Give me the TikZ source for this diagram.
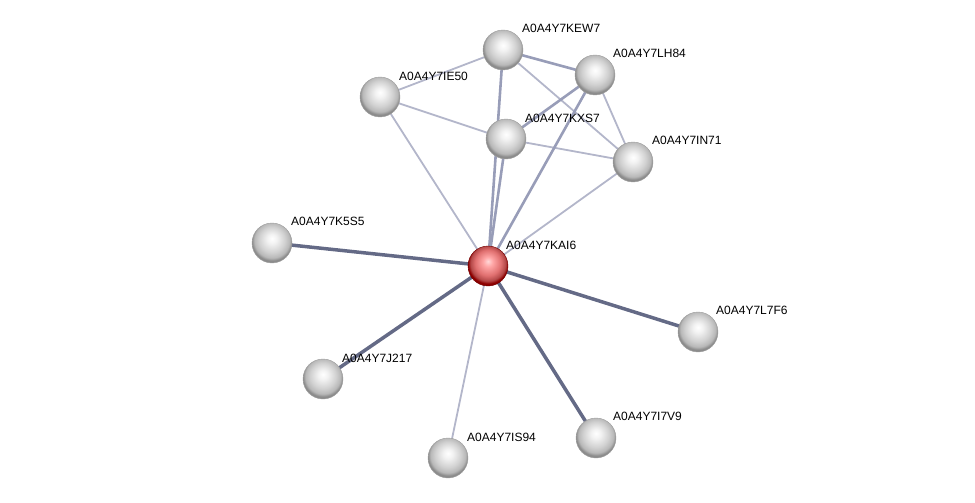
\documentclass[tikz,border=0pt]{standalone}
\usepackage{fontspec}
\setmainfont{Liberation Sans}
\pgfdeclarelayer{bg}
\pgfsetlayers{bg,main}
\pgfdeclareradialshading{wball}{\pgfpoint{0bp}{6bp}}{color(0bp)=(white); color(6bp)=(white!95!black); color(16bp)=(white!82!black); color(22bp)=(white!72!black); color(25bp)=(white!55!black); color(50bp)=(white!55!black)}
\pgfdeclareradialshading{rball}{\pgfpoint{0bp}{6bp}}{color(0bp)=(red!15!white); color(6bp)=(red!35!white); color(16bp)=(red!50!white!88!black); color(22bp)=(red!60!white!70!black); color(25bp)=(red!55!black); color(50bp)=(red!55!black)}
\definecolor{elight}{HTML}{B3B6CA}
\definecolor{emed}{HTML}{989DB8}
\definecolor{edark}{HTML}{646A86}
\tikzset{
  prot/.style={circle, minimum size=40pt, inner sep=0pt, shading=wball, draw=gray!75, line width=0.4pt},
  protc/.style={circle, minimum size=40pt, inner sep=0pt, shading=rball, draw=red!45!black, line width=0.4pt},
  lab/.style={anchor=west, inner sep=0pt, font=\fontsize{12}{14}\selectfont},
  el/.style={draw=elight, line width=1.8pt},
  em/.style={draw=emed, line width=2.6pt},
  ed/.style={draw=edark, line width=3.5pt}
}
\begin{document}
\begin{tikzpicture}[x=1pt,y=-1pt]
\useasboundingbox (0,0) rectangle (975,503);
\node[prot] (KEW7) at (503,50) {};
\node[prot] (LH84) at (595,75) {};
\node[prot] (IE50) at (380,97) {};
\node[prot] (KXS7) at (506,139) {};
\node[prot] (IN71) at (633,162) {};
\node[prot] (K5S5) at (272,243) {};
\node[protc] (KAI6) at (488,266) {};
\node[prot] (L7F6) at (698,332) {};
\node[prot] (J217) at (323,379) {};
\node[prot] (I7V9) at (596,438) {};
\node[prot] (IS94) at (448,458) {};
\node[lab] (tKEW7) at (522,28) {A0A4Y7KEW7};
\node[lab] (tLH84) at (613,53) {A0A4Y7LH84};
\node[lab] (tIE50) at (399,76) {A0A4Y7IE50};
\node[lab] (tKXS7) at (525,118) {A0A4Y7KXS7};
\node[lab] (tIN71) at (652,140) {A0A4Y7IN71};
\node[lab] (tK5S5) at (291,221) {A0A4Y7K5S5};
\node[lab] (tKAI6) at (506,245) {A0A4Y7KAI6};
\node[lab] (tL7F6) at (716,310) {A0A4Y7L7F6};
\node[lab] (tJ217) at (342,358) {A0A4Y7J217};
\node[lab] (tI7V9) at (613,416) {A0A4Y7I7V9};
\node[lab] (tIS94) at (467,437) {A0A4Y7IS94};
\begin{pgfonlayer}{bg}
\draw[el] (KEW7.center) -- (IE50.center);
\draw[el] (KEW7.center) -- (IN71.center);
\draw[el] (LH84.center) -- (IN71.center);
\draw[el] (IE50.center) -- (KXS7.center);
\draw[el] (KXS7.center) -- (IN71.center);
\draw[el] (IE50.center) -- (KAI6.center);
\draw[el] (IN71.center) -- (KAI6.center);
\draw[el] (IS94.center) -- (KAI6.center);
\draw[em] (KEW7.center) -- (LH84.center);
\draw[em] (LH84.center) -- (KXS7.center);
\draw[em] (LH84.center) -- (KAI6.center);
\draw[em] (KEW7.center) -- (KAI6.center);
\draw[em] (KXS7.center) -- (KAI6.center);
\draw[ed] (K5S5.center) -- (KAI6.center);
\draw[ed] (L7F6.center) -- (KAI6.center);
\draw[ed] (J217.center) -- (KAI6.center);
\draw[ed] (I7V9.center) -- (KAI6.center);
\end{pgfonlayer}
\end{tikzpicture}
\end{document}
